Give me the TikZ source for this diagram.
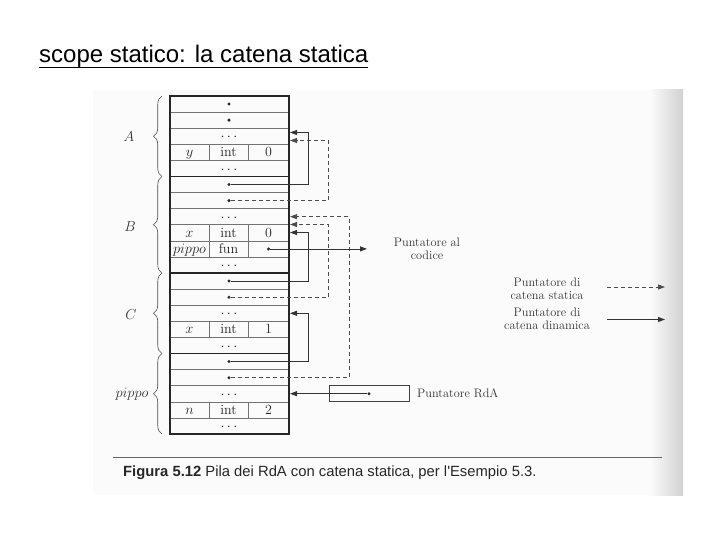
\documentclass[tikz,border=0pt]{standalone}
\usepackage{fontspec}
\newfontfamily\arialf{Liberation Sans}
\usetikzlibrary{arrows.meta,decorations.pathreplacing,calc}
\begin{document}
\begin{tikzpicture}[x=1pt,y=-1pt,
  cell/.style={font=\fontsize{14}{15}\selectfont, inner sep=0pt, text=black!85, text height=9.2pt, text depth=0pt},
  dotn/.style={circle, fill=black!85, inner sep=0pt, minimum size=3.3pt},
  dyn/.style={draw=black!80, line width=0.8pt, -{Triangle[length=7pt,width=5pt]}},
  sta/.style={draw=black!70, line width=0.8pt, dash pattern=on 4pt off 3pt, -{Triangle[length=7pt,width=5pt]}},
  lab/.style={font=\fontsize{12.3}{12.8}\selectfont, align=center, text=black!80, inner sep=0pt},
  frameline/.style={line width=1.8pt, draw=black!85},
  rowline/.style={line width=0.6pt, draw=black!55},
  bracestyle/.style={decorate, decoration={brace, amplitude=8.5pt}, line width=0.6pt, draw=black!70},
  side/.style={font=\fontsize{14}{15}\selectfont, text=black!80, inner sep=0pt}
]
\useasboundingbox (0,0) rectangle (720,540);
% scan background
\fill[black!1.5] (93,90) rectangle (650,495);
\shade[left color=black!1.5, right color=black!18] (650,90) rectangle (683,495);

% title
\node[anchor=base west, inner sep=0pt, font=\arialf\fontsize{24}{28}\selectfont] (title) at (39,63) {scope statico: la catena statica};
\draw[line width=1.6pt] ([yshift=-4.7pt]title.base west) -- ([yshift=-4.7pt]title.base east);

% stack rows
\foreach \i in {1,...,20} {
  \draw[rowline] (170,{96+\i*16.095}) -- (289,{96+\i*16.095});
}
% column dividers
\foreach \a/\b in {144.29/160.38, 224.76/256.95, 321.33/337.43, 401.81/417.90} {
  \draw[rowline] (209,\a) -- (209,\b);
  \draw[rowline] (248,\a) -- (248,\b);
}
% frame separators and outline
\foreach \i in {5,11,16} {
  \draw[frameline] (170,{96+\i*16.095}) -- (289,{96+\i*16.095});
}
\draw[frameline] (170,96) rectangle (289,434);

% cell contents
\node[dotn] (d0) at (229,104.05) {};
\node[dotn] (d1) at (229,120.14) {};
\node[cell] (e2) at (229,136.24) {$\cdots$};
\node[cell] (v3) at (189.5,152.33) {$y$};
\node[cell] (t3) at (228.5,152.33) {int};
\node[cell] (n3) at (268.5,152.33) {0};
\node[cell] (e4) at (229,168.43) {$\cdots$};
\node[dotn] (d5) at (229,184.52) {};
\node[dotn] (d6) at (229,200.62) {};
\node[cell] (e7) at (229,216.71) {$\cdots$};
\node[cell] (v8) at (189.5,232.81) {$x$};
\node[cell] (t8) at (228.5,232.81) {int};
\node[cell] (n8) at (268.5,232.81) {0};
\node[cell] (v9) at (189.5,248.9) {$pippo$};
\node[cell] (t9) at (228.5,248.9) {fun};
\node[dotn] (d9) at (268.5,248.9) {};
\node[cell] (e10) at (229,265.0) {$\cdots$};
\node[dotn] (d11) at (229,281.09) {};
\node[dotn] (d12) at (229,297.19) {};
\node[cell] (e13) at (229,313.28) {$\cdots$};
\node[cell] (v14) at (189.5,329.38) {$x$};
\node[cell] (t14) at (228.5,329.38) {int};
\node[cell] (n14) at (268.5,329.38) {1};
\node[cell] (e15) at (229,345.47) {$\cdots$};
\node[dotn] (d16) at (229,361.57) {};
\node[dotn] (d17) at (229,377.66) {};
\node[cell] (e18) at (229,393.76) {$\cdots$};
\node[cell] (v19) at (189.5,409.85) {$n$};
\node[cell] (t19) at (228.5,409.85) {int};
\node[cell] (n19) at (268.5,409.85) {2};
\node[cell] (e20) at (229,425.95) {$\cdots$};

% braces and frame labels
\draw[bracestyle] (162,176.5) -- (162,96);
\draw[bracestyle] (162,273.0) -- (162,176.5);
\draw[bracestyle] (162,353.5) -- (162,273.0);
\draw[bracestyle] (162,434) -- (162,353.5);
\node[side] (lA) at (129,137) {$A$};
\node[side] (lB) at (130,227) {$B$};
\node[side] (lC) at (131,315) {$C$};
\node[side] (lP) at (132,394) {$pippo$};

% lanes and targets
\coordinate (L1) at (308,0);
\coordinate (L2) at (328.5,0);
\coordinate (L3) at (349,0);
\coordinate (tA1) at (290,132.5);
\coordinate (tA2) at (290,140.5);
\coordinate (tB1) at (290,216.7);
\coordinate (tB2) at (290,224.5);
\coordinate (tB3) at (290,232.5);
\coordinate (tC) at (290,313.3);
\coordinate (tP) at (290,393.7);

\draw[dyn] (d5) -- (d5 -| L1) |- (tA1);
\draw[sta] (d6) -- (d6 -| L2) |- (tA2);
\draw[dyn] (d11) -- (d11 -| L1) |- (tB3);
\draw[sta] (d12) -- (d12 -| L2) |- (tB2);
\draw[dyn] (d16) -- (d16 -| L1) |- (tC);
\draw[sta] (d17) -- (d17 -| L3) |- (tB1);

% code pointer
\coordinate (cp) at (367,248.9);
\draw[dyn] (d9) -- (cp);
\node[lab] (cod) at (427,249) {Puntatore al\\codice};

% legend
\node[lab] (lst) at (547,288.5) {Puntatore di\\catena statica};
\node[lab] (ldy) at (547,319) {Puntatore di\\catena dinamica};
\coordinate (ls1) at (607,287);
\coordinate (ls2) at (665,287);
\coordinate (ld1) at (607,319.5);
\coordinate (ld2) at (665,319.5);
\draw[sta] (ls1) -- (ls2);
\draw[dyn] (ld1) -- (ld2);

% RdA pointer
\node[draw=black!75, line width=0.7pt, minimum width=79.7pt, minimum height=15.6pt, inner sep=0pt] (rdabox) at (369,393.5) {};
\node[dotn] (rdadot) at (369,393.7) {};
\draw[dyn] (rdadot) -- (tP);
\node[lab, anchor=west] (lrda) at (417,393.5) {Puntatore RdA};

% caption
\draw[black!60, line width=0.9pt] (113,457) -- (662,457);
\node[anchor=base west, inner sep=0pt, font=\arialf\fontsize{14.8}{17}\selectfont, text=black!85] (cap) at (123,476) {\textbf{Figura 5.12} Pila dei RdA con catena statica, per l'Esempio 5.3.};
\end{tikzpicture}
\end{document}
